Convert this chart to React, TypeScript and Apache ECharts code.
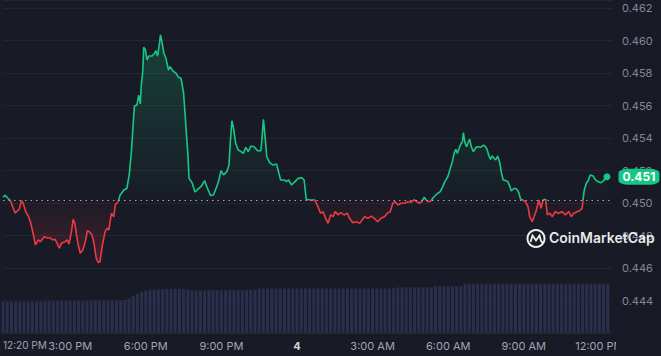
import React, { useEffect, useRef } from "react";
import * as echarts from "echarts";

// minutes since 12:00 PM (day 3)
const times = [
  20, 25, 31, 36, 39, 43, 49, 55, 59, 64,
  68, 74, 81, 85, 90, 94, 97, 104, 109, 118,
  126, 133, 138, 144, 149, 154, 159, 168, 173, 177,
  183, 187, 191, 195, 199, 204, 210, 216, 221, 225,
  232, 236, 242, 247, 251, 256, 263, 268, 272, 278,
  284, 287, 294, 299, 308, 315, 321, 326, 330, 333,
  339, 343, 347, 349, 353, 355, 359, 363, 367, 375,
  381, 384, 388, 392, 395, 399, 403, 408, 414, 418,
  424, 432, 438, 444, 450, 455, 460, 463, 470, 477,
  485, 492, 500, 506, 514, 521, 529, 534, 539, 545,
  553, 558, 561, 565, 569, 574, 580, 587, 592, 598,
  604, 610, 618, 626, 634, 637, 640, 644, 648, 655,
  663, 671, 677, 681, 690, 695, 700, 707, 715, 723,
  731, 737, 742, 750, 762, 770, 776, 782, 788, 794,
  800, 806, 811, 818, 824, 832, 840, 845, 853, 861,
  869, 875, 881, 889, 897, 904, 912, 920, 928, 935,
  942, 948, 954, 960, 968, 976, 984, 992, 999, 1006,
  1011, 1017, 1023, 1027, 1032, 1039, 1045, 1053, 1061, 1067,
  1072, 1079, 1085, 1090, 1094, 1098, 1102, 1106, 1110, 1114,
  1116, 1120, 1124, 1127, 1131, 1135, 1140, 1146, 1151, 1157,
  1164, 1169, 1173, 1177, 1181, 1185, 1189, 1193, 1198, 1203,
  1207, 1211, 1217, 1222, 1227, 1230, 1237, 1243, 1248, 1252,
  1259, 1264, 1270, 1274, 1280, 1286, 1290, 1296, 1301, 1306,
  1312, 1316, 1322, 1328, 1335, 1343, 1351, 1359, 1367, 1373,
  1379, 1387, 1395, 1399, 1401, 1404, 1409, 1414, 1418, 1425,
  1430, 1436, 1444, 1450, 1458,
];

const prices = [
  0.45036, 0.45048, 0.45031, 0.45019, 0.45008, 0.44978, 0.44939, 0.44953, 0.44963, 0.45015,
  0.44999, 0.44947, 0.44916, 0.44885, 0.44834, 0.44785, 0.44742, 0.44773, 0.44762, 0.44793,
  0.44785, 0.44785, 0.44773, 0.44777, 0.44752, 0.44722, 0.44752, 0.44762, 0.44773, 0.44748,
  0.44824, 0.449, 0.44875, 0.44803, 0.44742, 0.44691, 0.44711, 0.44762, 0.4483, 0.44824,
  0.44803, 0.44762, 0.4466, 0.44633, 0.44639, 0.44731, 0.44824, 0.44845, 0.44834, 0.44937,
  0.44916, 0.44988, 0.45008, 0.4505, 0.4508, 0.45091, 0.45183, 0.45327, 0.45491, 0.45598,
  0.45604, 0.45665, 0.4561, 0.45716, 0.45819, 0.45959, 0.45942, 0.45881, 0.45905, 0.45905,
  0.45922, 0.45938, 0.45905, 0.45973, 0.46035, 0.45984, 0.45922, 0.45891, 0.45819, 0.4584,
  0.45815, 0.45799, 0.45774, 0.45768, 0.45676, 0.45491, 0.45306, 0.45152, 0.45127, 0.45068,
  0.45087, 0.45102, 0.45138, 0.45096, 0.45047, 0.4505, 0.45101, 0.45142, 0.45199, 0.45173,
  0.45193, 0.45234, 0.45368, 0.45507, 0.4546, 0.45368, 0.45327, 0.45316, 0.45306, 0.45343,
  0.45316, 0.45351, 0.45347, 0.45322, 0.45322, 0.45409, 0.45516, 0.45409, 0.45285, 0.45249,
  0.45234, 0.45241, 0.45183, 0.45142, 0.45142, 0.45132, 0.45142, 0.45111, 0.45132, 0.45152,
  0.45156, 0.45142, 0.45023, 0.45019, 0.45019, 0.44978, 0.44937, 0.44947, 0.44906, 0.44875,
  0.44927, 0.44916, 0.44947, 0.44927, 0.44941, 0.44927, 0.44937, 0.44906, 0.44879, 0.44885,
  0.44875, 0.44896, 0.44916, 0.44906, 0.4492, 0.44906, 0.44885, 0.44906, 0.44916, 0.44937,
  0.44947, 0.44999, 0.45008, 0.44988, 0.44999, 0.44999, 0.45008, 0.45005, 0.45019, 0.45008,
  0.44999, 0.45008, 0.45036, 0.4502, 0.45008, 0.45013, 0.45036, 0.45056, 0.4507, 0.45101,
  0.45132, 0.45162, 0.45214, 0.45255, 0.45306, 0.45331, 0.45306, 0.45337, 0.45364, 0.45378,
  0.45433, 0.45372, 0.45347, 0.45368, 0.45393, 0.45347, 0.45316, 0.45343, 0.45347, 0.45343,
  0.45356, 0.45347, 0.45327, 0.4529, 0.45269, 0.4529, 0.45276, 0.45265, 0.4529, 0.45245,
  0.45183, 0.45142, 0.45138, 0.45132, 0.45101, 0.45074, 0.45091, 0.45087, 0.45065, 0.45026,
  0.45016, 0.45008, 0.44978, 0.44916, 0.44885, 0.44927, 0.44957, 0.45019, 0.44968, 0.45019,
  0.45023, 0.44927, 0.44937, 0.44916, 0.44947, 0.44937, 0.44947, 0.44927, 0.44947, 0.44916,
  0.44937, 0.44947, 0.44957, 0.44968, 0.45019, 0.4508, 0.45122, 0.45142, 0.45173, 0.45167,
  0.45146, 0.45132, 0.45125, 0.45138, 0.45162,
];

// 24h volume (millions USD), one bar per 10 minutes starting 12:20 PM
const VOL_START = 20;
const VOL_STEP = 10;
const volumes = [
  94, 94, 94, 94, 94, 94, 94, 94, 94, 94,
  95, 95, 95, 95, 95, 95, 95, 95, 95, 95,
  95, 96, 96, 96, 96, 96, 96, 96, 96,
  99, 104,
  112, 118, 124,
  127, 129, 130, 131, 132,
  132, 132, 133, 133, 132, 131,
  128, 128, 128, 128, 129, 129, 129,
  128, 128, 129, 129, 129, 129, 129, 129, 130,
  134, 134, 134, 134, 134, 134, 134, 134, 134, 134,
  134, 134, 134, 134, 134, 134, 134, 134, 134, 134,
  134, 134, 134, 134, 134, 134, 134, 134, 134, 134,
  134, 134, 134,
  137, 137, 137, 137, 137, 137, 137, 137, 137,
  140, 140, 140, 140, 140, 140, 140,
  148, 148, 148, 148, 148, 148, 148, 148, 148, 148,
  148, 148, 148, 148, 148, 148, 148, 148, 148, 148,
  148, 148, 148, 148, 148, 148, 148, 148, 148, 148,
  148, 148, 148, 148, 148,
];

const BASE_PRICE = 0.4502;
const START_LABEL = "12:20 PM";
const xTickValues = [180, 360, 540, 720, 900, 1080, 1260, 1440];
const xTickLabels = ["3:00 PM", "6:00 PM", "9:00 PM", "4", "3:00 AM", "6:00 AM", "9:00 AM", "12:00 PM"];

const GREEN = "#16c784";
const RED = "#ea3943";
const BG = "#181a25";

export default function App() {
  const ref = useRef<HTMLDivElement | null>(null);

  useEffect(() => {
    if (!ref.current) return;
    const chart = echarts.init(ref.current, undefined, { renderer: "svg" });

    const pricePairs = times.map((t, i) => [t, prices[i]]);
    const volPairs = volumes.map((v, i) => [VOL_START + i * VOL_STEP, v]);
    const maxP = Math.max(...prices, BASE_PRICE);
    const minP = Math.min(...prices, BASE_PRICE);
    const split = (maxP - BASE_PRICE) / (maxP - minP);
    const lastT = times[times.length - 1];
    const lastP = prices[prices.length - 1];
    const badgeText = (Math.floor(lastP * 1000) / 1000).toFixed(3);
    const X_MIN = times[0];
    const X_MAX = 1470;

    const labelBase = { color: "#a0a5b2", fontSize: 11, fontFamily: "Inter", margin: 7 };

    const option: any = {
      animation: false,
      backgroundColor: BG,
      grid: { left: 0, right: 49, top: 0, bottom: 23, containLabel: false },
      xAxis: [
        {
          type: "value",
          min: X_MIN,
          max: X_MAX,
          axisLine: { show: false },
          axisTick: { show: false },
          splitLine: { show: false },
          axisLabel: {
            ...labelBase,
            customValues: xTickValues,
            formatter: (v: number) => {
              let best = 0;
              for (let i = 0; i < xTickValues.length; i++) {
                if (Math.abs(xTickValues[i] - v) < Math.abs(xTickValues[best] - v)) best = i;
              }
              const s = xTickLabels[best];
              return s === "4" ? "{d|4}" : s;
            },
            rich: { d: { fontWeight: "bold", color: "#cfd3dc", fontSize: 11, fontFamily: "Inter" } },
          },
        },
        {
          type: "value",
          position: "bottom",
          min: X_MIN,
          max: X_MAX,
          axisLine: { show: false },
          axisTick: { show: false },
          splitLine: { show: false },
          axisLabel: {
            ...labelBase,
            fontSize: 10,
            customValues: [X_MIN],
            showMinLabel: true,
            align: "left",
            formatter: () => START_LABEL,
          },
        },
      ],
      yAxis: [
        {
          type: "value",
          position: "right",
          min: 0.442,
          max: 0.4625,
          interval: 0.002,
          axisLine: { show: false },
          axisTick: { show: false },
          splitLine: { lineStyle: { color: "#23262f", width: 1 } },
          axisLabel: {
            showMinLabel: false,
            showMaxLabel: false,
            color: "#82889a",
            fontSize: 11,
            fontFamily: "Inter",
            margin: 10,
            formatter: (v: number) => v.toFixed(3),
          },
        },
        { type: "value", show: false, min: 0, max: 1000 },
      ],
      series: [
        {
          type: "bar",
          xAxisIndex: 0,
          yAxisIndex: 1,
          data: volPairs,
          barWidth: 3,
          silent: true,
          itemStyle: { color: "#2a2f4e" },
          z: 1,
        },
        {
          type: "line",
          xAxisIndex: 0,
          yAxisIndex: 0,
          data: pricePairs,
          showSymbol: false,
          symbol: "none",
          z: 3,
          lineStyle: {
            width: 1.6,
            color: new echarts.graphic.LinearGradient(0, 0, 0, 1, [
              { offset: 0, color: GREEN },
              { offset: split, color: GREEN },
              { offset: split, color: RED },
              { offset: 1, color: RED },
            ]),
          },
          areaStyle: {
            origin: BASE_PRICE,
            color: new echarts.graphic.LinearGradient(0, 0, 0, 1, [
              { offset: 0, color: "rgba(22,199,132,0.32)" },
              { offset: split, color: "rgba(22,199,132,0.02)" },
              { offset: split, color: "rgba(234,57,67,0.02)" },
              { offset: 1, color: "rgba(234,57,67,0.30)" },
            ]),
          },
          markLine: {
            silent: true,
            symbol: "none",
            precision: 5,
            label: { show: false },
            lineStyle: { color: "#a3a8b4", width: 1, type: [1.5, 4] },
            data: [{ yAxis: BASE_PRICE }],
          },
          markPoint: {
            silent: true,
            data: [
              {
                coord: [lastT, lastP],
                symbol: "circle",
                symbolSize: 7,
                itemStyle: { color: GREEN },
                label: { show: false },
              },
              {
                coord: [lastT, lastP],
                symbol: "roundRect",
                symbolSize: [41, 16],
                symbolOffset: [32, 0],
                itemStyle: { color: GREEN },
                label: {
                  show: true,
                  position: "inside",
                  formatter: badgeText,
                  color: "#ffffff",
                  fontWeight: "bold",
                  fontSize: 12,
                  fontFamily: "Inter",
                },
              },
            ],
          },
        },
      ],
      graphic: [
        {
          type: "rect",
          z: 100,
          shape: { x: 616, y: 336, width: 45, height: 20 },
          style: { fill: BG },
        },
        {
          type: "circle",
          z: 100,
          shape: { cx: 536, cy: 238.5, r: 8.5 },
          style: { fill: "none", stroke: "#ffffff", lineWidth: 2, opacity: 0.92 },
        },
        {
          type: "polyline",
          z: 100,
          shape: { points: [[530.5, 242], [532.5, 235.5], [536, 240.5], [539.5, 235.5], [541, 241], [543, 243]] },
          style: { fill: "none", stroke: "#ffffff", lineWidth: 1.8, opacity: 0.92 },
        },
        {
          type: "text",
          z: 100,
          x: 549,
          y: 230,
          style: {
            text: "CoinMarketCap",
            fill: "#ffffff",
            opacity: 0.92,
            font: "600 14px Inter",
          },
        },
      ],
    };

    chart.setOption(option);
    return () => chart.dispose();
  }, []);

  return <div ref={ref} style={{ position: "fixed", left: 0, top: 0, width: 661, height: 356 }} />;
}
